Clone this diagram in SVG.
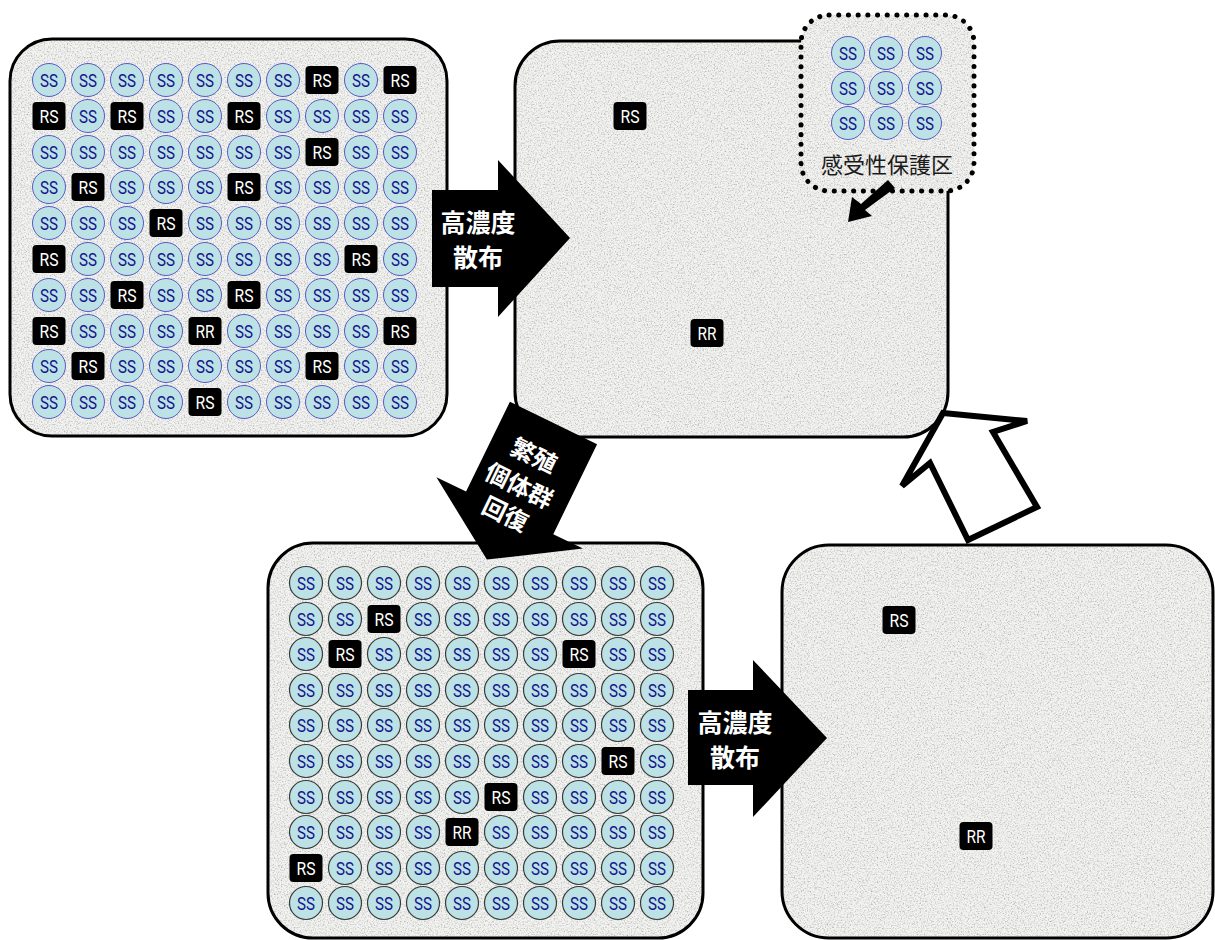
<svg xmlns="http://www.w3.org/2000/svg" xmlns:xlink="http://www.w3.org/1999/xlink" width="1215" height="940" viewBox="0 0 1215 940">
<style>
.bg{fill:#f2f2f0;filter:url(#grain)}
.frame{fill:none;stroke:#000;stroke-width:3}
.lbl{font-family:Roboto,"Liberation Sans",sans-serif;font-size:19px;text-anchor:middle}
.jp{font-family:"Noto Sans CJK JP","Noto Sans CJK SC",sans-serif;text-anchor:middle}
.aw{fill:#fff;font-weight:700}
.p1{stroke:#5a5ac4;stroke-width:1}
.p3{stroke:#3a3a3a;stroke-width:1.2}
</style>
<defs>
<filter id="grain" x="0" y="0" width="1" height="1">
<feTurbulence type="fractalNoise" baseFrequency="0.7" numOctaves="3" seed="7" result="n"/>
<feColorMatrix in="n" type="matrix" values="0 0 0 0 0.45  0 0 0 0 0.45  0 0 0 0 0.43  2.4 0 0 0 -1.1" result="g"/>
<feComposite in="g" in2="SourceGraphic" operator="in" result="gc"/>
<feMerge><feMergeNode in="SourceGraphic"/><feMergeNode in="gc"/></feMerge>
</filter>
<g id="ss"><circle r="16.5" fill="#bde2e6"/><text class="lbl" y="7" fill="#14148c" stroke="none" textLength="18" lengthAdjust="spacingAndGlyphs">SS</text></g>
<g id="rs"><rect x="-16.5" y="-14" width="33" height="28" rx="4" fill="#000" stroke="none"/><text class="lbl" y="7" fill="#fff" stroke="none" textLength="19" lengthAdjust="spacingAndGlyphs">RS</text></g>
<g id="rr"><rect x="-16.5" y="-14" width="33" height="28" rx="4" fill="#000" stroke="none"/><text class="lbl" y="7" fill="#fff" stroke="none" textLength="19" lengthAdjust="spacingAndGlyphs">RR</text></g>
</defs>
<rect width="1215" height="940" fill="#fff"/>

<g id="panel1">
<rect class="bg" x="10" y="39" width="437" height="397" rx="42"/>
<rect class="frame" x="10" y="39" width="437" height="397" rx="42"/>
<g class="p1">
<use href="#ss" x="49" y="80"/><use href="#ss" x="88" y="80"/><use href="#ss" x="127" y="80"/><use href="#ss" x="166" y="80"/><use href="#ss" x="205" y="80"/><use href="#ss" x="244" y="80"/><use href="#ss" x="283" y="80"/><use href="#rs" x="322" y="80"/><use href="#ss" x="361" y="80"/><use href="#rs" x="400" y="80"/>
<use href="#rs" x="49" y="116"/><use href="#ss" x="88" y="116"/><use href="#rs" x="127" y="116"/><use href="#ss" x="166" y="116"/><use href="#ss" x="205" y="116"/><use href="#rs" x="244" y="116"/><use href="#ss" x="283" y="116"/><use href="#ss" x="322" y="116"/><use href="#ss" x="361" y="116"/><use href="#ss" x="400" y="116"/>
<use href="#ss" x="49" y="152"/><use href="#ss" x="88" y="152"/><use href="#ss" x="127" y="152"/><use href="#ss" x="166" y="152"/><use href="#ss" x="205" y="152"/><use href="#ss" x="244" y="152"/><use href="#ss" x="283" y="152"/><use href="#rs" x="322" y="152"/><use href="#ss" x="361" y="152"/><use href="#ss" x="400" y="152"/>
<use href="#ss" x="49" y="187"/><use href="#rs" x="88" y="187"/><use href="#ss" x="127" y="187"/><use href="#ss" x="166" y="187"/><use href="#ss" x="205" y="187"/><use href="#rs" x="244" y="187"/><use href="#ss" x="283" y="187"/><use href="#ss" x="322" y="187"/><use href="#ss" x="361" y="187"/><use href="#ss" x="400" y="187"/>
<use href="#ss" x="49" y="223"/><use href="#ss" x="88" y="223"/><use href="#ss" x="127" y="223"/><use href="#rs" x="166" y="223"/><use href="#ss" x="205" y="223"/><use href="#ss" x="244" y="223"/><use href="#ss" x="283" y="223"/><use href="#ss" x="322" y="223"/><use href="#ss" x="361" y="223"/><use href="#ss" x="400" y="223"/>
<use href="#rs" x="49" y="259"/><use href="#ss" x="88" y="259"/><use href="#ss" x="127" y="259"/><use href="#ss" x="166" y="259"/><use href="#ss" x="205" y="259"/><use href="#ss" x="244" y="259"/><use href="#ss" x="283" y="259"/><use href="#ss" x="322" y="259"/><use href="#rs" x="361" y="259"/><use href="#ss" x="400" y="259"/>
<use href="#ss" x="49" y="295"/><use href="#ss" x="88" y="295"/><use href="#rs" x="127" y="295"/><use href="#ss" x="166" y="295"/><use href="#ss" x="205" y="295"/><use href="#rs" x="244" y="295"/><use href="#ss" x="283" y="295"/><use href="#ss" x="322" y="295"/><use href="#ss" x="361" y="295"/><use href="#ss" x="400" y="295"/>
<use href="#rs" x="49" y="331"/><use href="#ss" x="88" y="331"/><use href="#ss" x="127" y="331"/><use href="#ss" x="166" y="331"/><use href="#rr" x="205" y="331"/><use href="#ss" x="244" y="331"/><use href="#ss" x="283" y="331"/><use href="#ss" x="322" y="331"/><use href="#ss" x="361" y="331"/><use href="#rs" x="400" y="331"/>
<use href="#ss" x="49" y="366"/><use href="#rs" x="88" y="366"/><use href="#ss" x="127" y="366"/><use href="#ss" x="166" y="366"/><use href="#ss" x="205" y="366"/><use href="#ss" x="244" y="366"/><use href="#ss" x="283" y="366"/><use href="#rs" x="322" y="366"/><use href="#ss" x="361" y="366"/><use href="#ss" x="400" y="366"/>
<use href="#ss" x="49" y="402"/><use href="#ss" x="88" y="402"/><use href="#ss" x="127" y="402"/><use href="#ss" x="166" y="402"/><use href="#rs" x="205" y="402"/><use href="#ss" x="244" y="402"/><use href="#ss" x="283" y="402"/><use href="#ss" x="322" y="402"/><use href="#ss" x="361" y="402"/><use href="#ss" x="400" y="402"/>
</g>
</g>

<g id="panel2">
<rect class="bg" x="515" y="41" width="433" height="396" rx="45"/>
<rect class="frame" x="515" y="41" width="433" height="396" rx="45"/>
<use href="#rs" x="630" y="116"/>
<use href="#rr" x="707" y="333"/>
</g>

<g id="refuge">
<rect class="bg" x="801" y="15" width="173" height="176" rx="28"/>
<rect x="801" y="15" width="173" height="176" rx="28" fill="none" stroke="#000" stroke-width="5" stroke-linecap="round" stroke-dasharray="0.1 9.6"/>
<g class="p1">
<use href="#ss" x="848" y="53"/><use href="#ss" x="886" y="53"/><use href="#ss" x="925" y="53"/>
<use href="#ss" x="848" y="88"/><use href="#ss" x="886" y="88"/><use href="#ss" x="925" y="88"/>
<use href="#ss" x="848" y="123"/><use href="#ss" x="886" y="123"/><use href="#ss" x="925" y="123"/>
</g>
<text class="jp" x="887" y="173" font-size="22" fill="#1a1a1a">感受性保護区</text>
</g>

<g id="panel3">
<rect class="bg" x="268" y="543" width="435" height="395" rx="45"/>
<rect class="frame" x="268" y="543" width="435" height="395" rx="45"/>
<g class="p3">
<use href="#ss" x="306" y="583"/><use href="#ss" x="345" y="583"/><use href="#ss" x="384" y="583"/><use href="#ss" x="423" y="583"/><use href="#ss" x="462" y="583"/><use href="#ss" x="501" y="583"/><use href="#ss" x="540" y="583"/><use href="#ss" x="579" y="583"/><use href="#ss" x="618" y="583"/><use href="#ss" x="657" y="583"/>
<use href="#ss" x="306" y="619"/><use href="#ss" x="345" y="619"/><use href="#rs" x="384" y="619"/><use href="#ss" x="423" y="619"/><use href="#ss" x="462" y="619"/><use href="#ss" x="501" y="619"/><use href="#ss" x="540" y="619"/><use href="#ss" x="579" y="619"/><use href="#ss" x="618" y="619"/><use href="#ss" x="657" y="619"/>
<use href="#ss" x="306" y="654"/><use href="#rs" x="345" y="654"/><use href="#ss" x="384" y="654"/><use href="#ss" x="423" y="654"/><use href="#ss" x="462" y="654"/><use href="#ss" x="501" y="654"/><use href="#ss" x="540" y="654"/><use href="#rs" x="579" y="654"/><use href="#ss" x="618" y="654"/><use href="#ss" x="657" y="654"/>
<use href="#ss" x="306" y="690"/><use href="#ss" x="345" y="690"/><use href="#ss" x="384" y="690"/><use href="#ss" x="423" y="690"/><use href="#ss" x="462" y="690"/><use href="#ss" x="501" y="690"/><use href="#ss" x="540" y="690"/><use href="#ss" x="579" y="690"/><use href="#ss" x="618" y="690"/><use href="#ss" x="657" y="690"/>
<use href="#ss" x="306" y="725"/><use href="#ss" x="345" y="725"/><use href="#ss" x="384" y="725"/><use href="#ss" x="423" y="725"/><use href="#ss" x="462" y="725"/><use href="#ss" x="501" y="725"/><use href="#ss" x="540" y="725"/><use href="#ss" x="579" y="725"/><use href="#ss" x="618" y="725"/><use href="#ss" x="657" y="725"/>
<use href="#ss" x="306" y="761"/><use href="#ss" x="345" y="761"/><use href="#ss" x="384" y="761"/><use href="#ss" x="423" y="761"/><use href="#ss" x="462" y="761"/><use href="#ss" x="501" y="761"/><use href="#ss" x="540" y="761"/><use href="#ss" x="579" y="761"/><use href="#rs" x="618" y="761"/><use href="#ss" x="657" y="761"/>
<use href="#ss" x="306" y="797"/><use href="#ss" x="345" y="797"/><use href="#ss" x="384" y="797"/><use href="#ss" x="423" y="797"/><use href="#ss" x="462" y="797"/><use href="#rs" x="501" y="797"/><use href="#ss" x="540" y="797"/><use href="#ss" x="579" y="797"/><use href="#ss" x="618" y="797"/><use href="#ss" x="657" y="797"/>
<use href="#ss" x="306" y="832"/><use href="#ss" x="345" y="832"/><use href="#ss" x="384" y="832"/><use href="#ss" x="423" y="832"/><use href="#rr" x="462" y="832"/><use href="#ss" x="501" y="832"/><use href="#ss" x="540" y="832"/><use href="#ss" x="579" y="832"/><use href="#ss" x="618" y="832"/><use href="#ss" x="657" y="832"/>
<use href="#rs" x="306" y="868"/><use href="#ss" x="345" y="868"/><use href="#ss" x="384" y="868"/><use href="#ss" x="423" y="868"/><use href="#ss" x="462" y="868"/><use href="#ss" x="501" y="868"/><use href="#ss" x="540" y="868"/><use href="#ss" x="579" y="868"/><use href="#ss" x="618" y="868"/><use href="#ss" x="657" y="868"/>
<use href="#ss" x="306" y="903"/><use href="#ss" x="345" y="903"/><use href="#ss" x="384" y="903"/><use href="#ss" x="423" y="903"/><use href="#ss" x="462" y="903"/><use href="#ss" x="501" y="903"/><use href="#ss" x="540" y="903"/><use href="#ss" x="579" y="903"/><use href="#ss" x="618" y="903"/><use href="#ss" x="657" y="903"/>
</g>
</g>

<g id="panel4">
<rect class="bg" x="782" y="545" width="431" height="393" rx="47"/>
<rect class="frame" x="782" y="545" width="431" height="393" rx="47"/>
<use href="#rs" x="899" y="620"/>
<use href="#rr" x="976" y="836"/>
</g>

<g id="connectors">
<g id="arrow-spray1">
<polygon points="432,190 498,190 498,160 570,238 498,317 498,287 432,287" fill="#000"/>
<text class="jp aw" x="478" y="232" font-size="25">高濃度</text>
<text class="jp aw" x="478" y="267" font-size="25">散布</text>
</g>
<g id="arrow-spray2">
<polygon points="688,690 753,690 753,660 827,738 753,817 753,785 688,785" fill="#000"/>
<text class="jp aw" x="735" y="732" font-size="25">高濃度</text>
<text class="jp aw" x="735" y="767" font-size="25">散布</text>
</g>
<g id="arrow-recover">
<polygon transform="translate(553.5,423) rotate(116)" points="0,-48.5 100,-48.5 100,-81.5 152,0 100,81.5 100,48.5 0,48.5" fill="#000"/>
<g transform="translate(519,486) rotate(26)">
<text class="jp aw" x="0" y="-25" font-size="24">繁殖</text>
<text class="jp aw" x="0" y="8.5" font-size="24">個体群</text>
<text class="jp aw" x="0" y="40" font-size="24">回復</text>
</g>
</g>
<g id="arrow-refuge">
<polygon points="895,188 888,180 861,204 852,197 848,222 872,216 865,210" fill="#000"/>
</g>
<g id="arrow-return">
<polygon points="943,413 1027,421 993,432 1037,507 968,540 930,463 902,486" fill="#fff" stroke="#000" stroke-width="6" stroke-linejoin="miter"/>
</g>
</g>
</svg>
